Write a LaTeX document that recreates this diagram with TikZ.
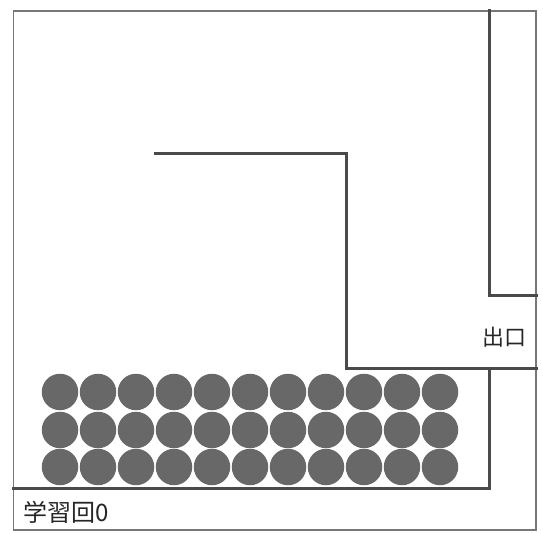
\documentclass[tikz,border=0pt]{standalone}
\usepackage{fontspec}
\newfontfamily\cjk{Noto Sans CJK JP}
\definecolor{wallc}{HTML}{4A4A4A}
\definecolor{ballc}{HTML}{686868}
\begin{document}
\begin{tikzpicture}[x=1pt,y=-1pt,
  frame/.style={draw=wallc!75,line width=1.3pt},
  wall/.style={draw=wallc,line width=3pt,line cap=rect,line join=miter},
  ball/.style={circle,fill=ballc,minimum size=36.5pt,inner sep=0pt,draw=none},
  lbl/.style={font=\cjk,text=black!85,inner sep=0pt}]
\useasboundingbox (0,0) rectangle (543,534);
\fill[white] (0,0) rectangle (543,534);
% outer frame
\draw[frame] (13.5,11) rectangle (536,530);
% named corners
\coordinate (w1) at (489,11);
\coordinate (w2) at (489,296);
\coordinate (w3) at (536,296);
\coordinate (i1) at (155,154);
\coordinate (i2) at (346,154);
\coordinate (i3) at (346,368);
\coordinate (i4) at (536,368);
\coordinate (b1) at (489,368);
\coordinate (b2) at (489,488);
\coordinate (b3) at (13.5,488);
% walls
\draw[wall] (w1) -- (w2) -- (w3);
\draw[wall] (i1) -- (i2) -- (i3) -- (i4);
\draw[wall] (b1) -- (b2) -- (b3);
% balls
\foreach \r/\yy in {1/392,2/430,3/467}{
  \foreach \c in {0,...,10}{
    \node[ball] (ball-\r-\c) at ({60+38*\c},\yy) {};
  }
}
% labels
\node[lbl,anchor=west,font=\cjk\fontsize{24}{24}\selectfont] (count) at (23,512) {学習回0};
\node[lbl,font=\cjk\fontsize{22}{22}\selectfont] (exit) at (504,337) {出口};
\end{tikzpicture}
\end{document}
